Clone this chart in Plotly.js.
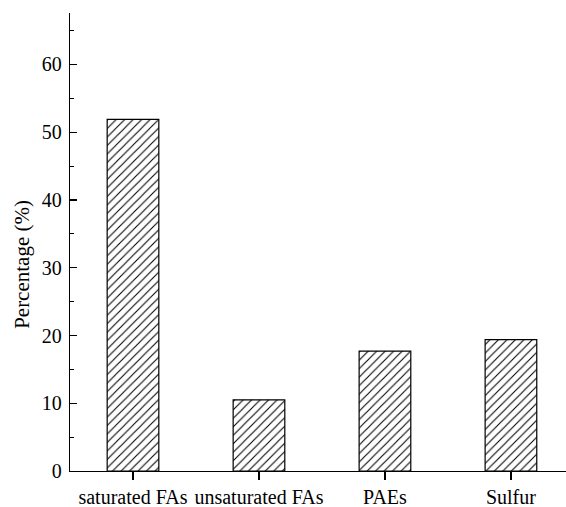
<!DOCTYPE html>
<html>
<head>
<meta charset="utf-8">
<script src="https://cdn.plot.ly/plotly-3.0.1.min.js"></script>
<style>html,body{margin:0;padding:0;background:#fff;}#chart{width:566px;height:507px;}</style>
</head>
<body>
<div id="chart"></div>
<script>
const categories = ["saturated FAs", "unsaturated FAs", "PAEs", "Sulfur"];
const percentages = [51.9, 10.5, 17.7, 19.4];
const yTickValues = [0, 10, 20, 30, 40, 50, 60];
const yTitle = "Percentage (%)";

const trace = {
  type: "bar",
  x: categories,
  y: percentages,
  width: 0.41,
  marker: {
    color: "#ffffff",
    line: {color: "#000000", width: 1.2},
    pattern: {shape: "/", size: 6, solidity: 0.18, fgcolor: "#000000", bgcolor: "#ffffff"}
  },
  hoverinfo: "skip"
};

const layout = {
  width: 566,
  height: 507,
  margin: {l: 70, r: 0, t: 13, b: 36, pad: 0},
  paper_bgcolor: "#ffffff",
  plot_bgcolor: "#ffffff",
  showlegend: false,
  font: {family: "Liberation Serif, Times New Roman, serif", size: 20, color: "#000"},
  xaxis: {
    type: "category",
    range: [-0.5, 3.437],
    showline: true, linecolor: "#000", linewidth: 1.3,
    ticks: "outside", ticklen: 8, tickwidth: 1.3, tickcolor: "#000",
    showgrid: false, zeroline: false,
    tickangle: 0,
    tickfont: {size: 20},
    ticklabelstandoff: 0
  },
  yaxis: {
    range: [0, 67.6],
    tickvals: yTickValues,
    showline: true, linecolor: "#000", linewidth: 1.3,
    ticks: "inside", ticklen: 7, tickwidth: 1.3, tickcolor: "#000",
    minor: {ticks: "inside", ticklen: 4, tickwidth: 1.2, tickcolor: "#000", dtick: 5, showgrid: false},
    showgrid: false, zeroline: false,
    tickfont: {size: 20},
    ticklabelstandoff: 3
  },
  annotations: [{
    text: yTitle,
    xref: "paper", yref: "paper",
    x: -0.097, y: 0.452,
    xanchor: "center", yanchor: "middle",
    textangle: -90,
    showarrow: false,
    font: {size: 21}
  }]
};

Plotly.newPlot("chart", [trace], layout, {staticPlot: true, displayModeBar: false});
</script>
</body>
</html>
